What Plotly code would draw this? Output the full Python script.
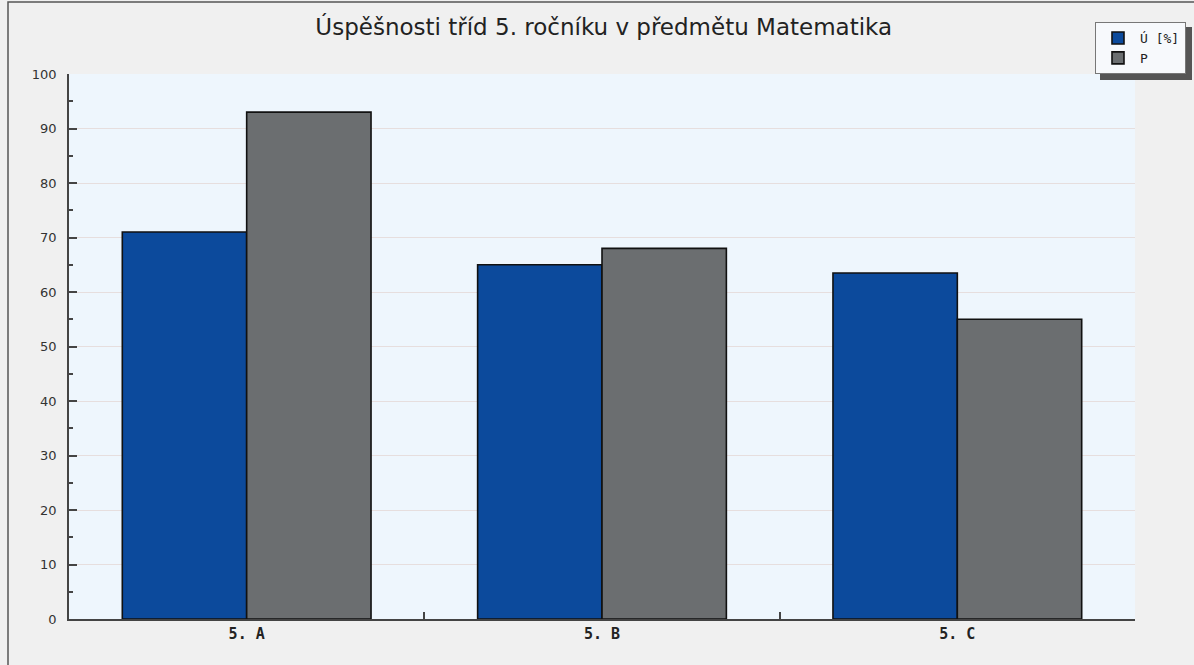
import plotly.graph_objects as go

categories = ["5. A", "5. B", "5. C"]
series_names = ["Ú [%]", "P"]
values_u = [71, 65, 63.5]
values_p = [93, 68, 55]
y_ticks = [0, 10, 20, 30, 40, 50, 60, 70, 80, 90, 100]

colors = ["#0c4a9c", "#6b6e70"]

fig = go.Figure()
for name, vals, col in zip(series_names, [values_u, values_p], colors):
    fig.add_trace(go.Bar(
        x=categories, y=vals, name=name,
        marker=dict(color=col, line=dict(color="#111111", width=1.6)),
    ))

# plot area pixel geometry
L, R, T, B = 69, 59, 74, 46
W, H = 1194, 665
pw, ph = W - L - R, H - T - B

def px(x):
    return (x - L) / pw

def py(y):
    return (H - B - y) / ph

shapes = [
    # outer frame
    dict(type="rect", xref="paper", yref="paper", x0=px(8), x1=px(1200), y0=py(670), y1=py(2),
         line=dict(color="#555555", width=1.5), fillcolor="rgba(0,0,0,0)", layer="below"),
    # legend shadow
    dict(type="rect", xref="paper", yref="paper", x0=px(1100), x1=px(1192), y0=py(80), y1=py(27),
         line=dict(width=0), fillcolor="#555555", layer="above"),
]

fig.update_layout(
    width=W, height=H,
    margin=dict(l=L, r=R, t=T, b=B, autoexpand=False),
    paper_bgcolor="#f0f0f0",
    plot_bgcolor="#eef6fd",
    barmode="group",
    bargap=0.3,
    bargroupgap=0,
    title=dict(text="Úspěšnosti tříd 5. ročníku v předmětu Matematika",
               x=px(608), xanchor="center", y=1 - 27 / H, yanchor="middle",
               font=dict(family="DejaVu Sans", size=23, color="#222222")),
    font=dict(family="DejaVu Sans", size=12, color="#333333"),
    showlegend=True,
    legend=dict(x=px(1095), y=py(22), xanchor="left", yanchor="top",
                bgcolor="#f7f9fc", bordercolor="#777777", borderwidth=1,
                font=dict(family="DejaVu Sans Mono", size=13, color="#222222"),
                itemwidth=34, tracegroupgap=4, traceorder="normal"),
    shapes=shapes,
    xaxis=dict(
        showline=True, linecolor="#444444", linewidth=1.5,
        tickfont=dict(family="DejaVu Sans Mono", size=15, color="#222222", weight="bold"),
        tickson="boundaries", ticks="inside", ticklen=7, tickcolor="#444444", tickwidth=1.5,
        showgrid=False,
    ),
    yaxis=dict(
        range=[0, 100], tickvals=y_ticks, ticktext=[str(v) for v in y_ticks],
        showline=True, linecolor="#444444", linewidth=1.5,
        ticks="inside", ticklen=8, tickcolor="#444444", tickwidth=1.5,
        showgrid=True, gridcolor="#e6dede", gridwidth=1,
        minor=dict(dtick=5, ticks="inside", ticklen=4, tickcolor="#444444", showgrid=False),
        tickfont=dict(family="DejaVu Sans", size=13, color="#333333"),
        ticklabelstandoff=8,
        zeroline=False,
    ),
)

fig.write_html("out.html", config={"displayModeBar": False},
               post_script="document.body.style.margin='0';")
